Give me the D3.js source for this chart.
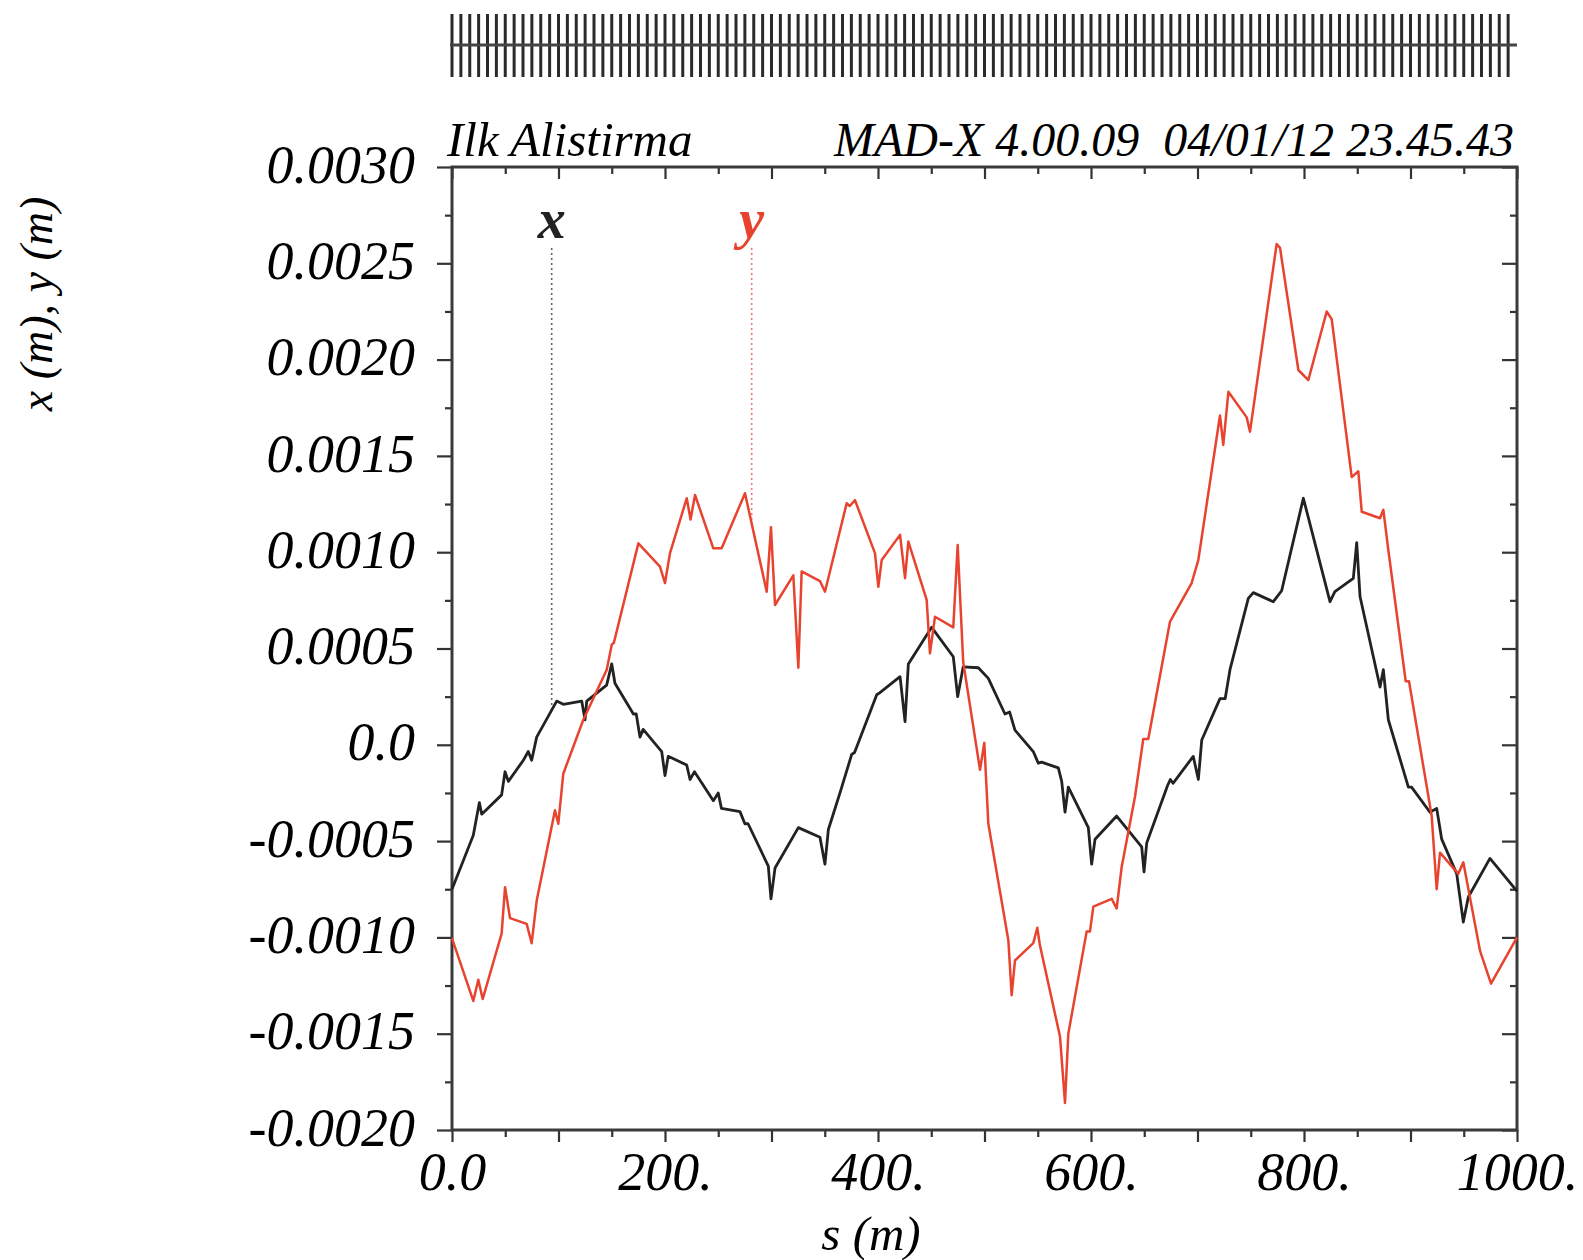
<!DOCTYPE html>
<html>
<head>
<meta charset="utf-8">
<script src="https://cdn.jsdelivr.net/npm/d3@7"></script>
<style>
	html, body { margin: 0; padding: 0; background: #fff; }
	svg text { font-family: "Liberation Serif", "Times New Roman", serif; font-style: italic; }
</style>
</head>
<body>
<div id="chart"></div>
<script>
"use strict";

//  Closed orbit: [s (m), value (m)]
const orbitX = [
	[0,-0.00075],[20,-0.00047],[25.7,-0.0003],[27.9,-0.00036],[46.6,-0.00026],[49.8,-0.00014],[52.9,-0.00019],
	[67,-0.00008],[71.6,-0.000035],[74.8,-0.00008],[79.5,0.00004],[98.3,0.000227],[104.5,0.00021],[121.8,0.000227],
	[124.9,0.00013],[126.5,0.000227],[145.2,0.00031],[150,0.00042],[153,0.00032],[170.3,0.00016],[173,0.00016],
	[176.5,0.00004],[179.5,0.00008],[196.9,-0.000035],[200,-0.00016],[203,-0.00006],[220.4,-0.000105],[223.5,-0.00018],
	[227.7,-0.00014],[245.4,-0.00029],[250,-0.00025],[253,-0.00033],[270.4,-0.000347],[275,-0.00041],[278,-0.00041],
	[297,-0.00063],[299.5,-0.0008],[303.3,-0.00064],[325.2,-0.00043],[345.5,-0.00048],[350.2,-0.00062],[353.4,-0.00044],
	[364.3,-0.00025],[375.3,-0.00005],[378,-0.00004],[398.8,0.00026],[401.5,0.00027],[420.7,0.000354],[425.4,0.00012],
	[428.5,0.00042],[450.4,0.00061],[470.7,0.000457],[474.8,0.00025],[480,0.000405],[494.2,0.0004],[503.6,0.000345],
	[519.2,0.00016],[523.6,0.00017],[528.6,0.000076],[545.8,-0.000035],[550.5,-0.000095],[553.6,-0.00009],[569.3,-0.00012],
	[572.5,-0.00019],[575.6,-0.00035],[578.7,-0.00022],[597.5,-0.00043],[600.6,-0.00062],[603.8,-0.00049],[624.1,-0.00037],
	[647.6,-0.00053],[649.8,-0.00066],[652.3,-0.00051],[672,-0.00021],[674.5,-0.00018],[677,-0.0002],[696,-0.00006],
	[700.8,-0.00018],[704,0.000025],[721.1,0.00024],[726,0.00024],[730.5,0.00039],[747.7,0.00076],[752.4,0.00079],
	[771.2,0.000743],[779,0.0008],[799.4,0.00128],[824.4,0.000743],[829,0.000795],[846.3,0.000864],[849.5,0.00105],
	[852.6,0.00077],[871.4,0.0003],[874.5,0.00039],[879.2,0.00013],[898,-0.00022],[901,-0.00022],[918.3,-0.00035],
	[924.6,-0.00033],[929.3,-0.00049],[943.4,-0.00067],[949.6,-0.00092],[954.3,-0.00079],[974.6,-0.00059],[1000,-0.00076]
];

const orbitY = [
	[0,-0.001005],[20,-0.00133],[24.7,-0.00122],[28.8,-0.00132],[46.6,-0.00098],[49.8,-0.00074],[54.5,-0.0009],
	[70.1,-0.00093],[74.8,-0.00103],[79.5,-0.00081],[96.7,-0.00034],[99.8,-0.00041],[104.5,-0.00015],[123.3,0.00013],
	[145.3,0.00039],[150,0.00052],[152,0.00053],[175,0.001046],[195.3,0.000925],[200,0.00084],[204.7,0.000995],
	[220.4,0.00128],[224,0.00117],[228.2,0.001297],[245.4,0.00102],[253.2,0.00102],[275.1,0.001306],[295.5,0.000795],
	[299.5,0.00113],[303.3,0.000726],[320.5,0.00088],[325.2,0.0004],[328.3,0.0009],[345.5,0.00085],[350.2,0.000795],
	[370.6,0.001254],[373.5,0.00124],[378.4,0.00127],[397.2,0.000994],[400.3,0.00082],[403.5,0.00096],[420.7,0.00109],
	[425.4,0.000865],[428.5,0.001055],[445.7,0.000752],[448.8,0.000475],[453.5,0.000665],[470.7,0.00061],[474.8,0.001037],
	[480,0.00043],[495.8,-0.00013],[499.8,0.00001],[503.6,-0.00041],[522.4,-0.001015],[525.5,-0.0013],[528.6,-0.00112],
	[545.8,-0.00103],[549.6,-0.00095],[552,-0.00104],[570.9,-0.001515],[575.6,-0.00186],[578.7,-0.0015],[595.9,-0.00097],
	[599,-0.00097],[602.2,-0.00084],[619.4,-0.0008],[624.1,-0.00085],[628.8,-0.000634],[641.3,-0.00027],[649.1,0.00003],
	[653.8,0.00003],[674.2,0.00064],[694.5,0.00084],[700.8,0.00096],[721.1,0.00171],[724.2,0.001557],[729,0.001833],
	[746.2,0.0017],[749.3,0.001626],[774.3,0.0026],[777.5,0.00258],[794.7,0.001946],[804.1,0.001894],[821.3,0.00225],
	[826,0.00221],[844.8,0.00139],[851,0.00142],[854.2,0.00121],[871.4,0.001176],[874.5,0.00122],[879.2,0.00101],
	[895.5,0.00033],[898.6,0.00033],[919.9,-0.00037],[924.6,-0.00075],[927.7,-0.00056],[944.9,-0.00067],[949.6,-0.00061],
	[965.3,-0.00107],[975.6,-0.00124],[1000,-0.001]
];

//  Axis ticks
const xMajorTicks = [0, 100, 200, 300, 400, 500, 600, 700, 800, 900, 1000];
const xMinorTicks = [50, 150, 250, 350, 450, 550, 650, 750, 850, 950];
const xTickLabels = { 0: '0.0', 200: '200.', 400: '400.', 600: '600.', 800: '800.', 1000: '1000.' };
const yMajorTicks = [-0.002, -0.0015, -0.001, -0.0005, 0, 0.0005, 0.001, 0.0015, 0.002, 0.0025, 0.003];
const yMinorTicks = [-0.00175, -0.00125, -0.00075, -0.00025, 0.00025, 0.00075, 0.00125, 0.00175, 0.00225, 0.00275];
const yTickLabels = ['-0.0020', '-0.0015', '-0.0010', '-0.0005', '0.0', '0.0005', '0.0010', '0.0015', '0.0020', '0.0025', '0.0030'];

//  Lattice: elements along the 1000 m ring
const circumference = 1000;
const nElements = 120;

const title = 'Ilk Alistirma';
const stamp = 'MAD-X 4.00.09  04/01/12 23.45.43';

const width = 1583, height = 1260;
const plot = { left: 452, right: 1517, top: 167, bottom: 1130 };

const svg = d3.select('#chart').append('svg')
	.attr('width', width)
	.attr('height', height);

const x = d3.scaleLinear().domain([0, 1000]).range([plot.left, plot.right]);
const y = d3.scaleLinear().domain([-0.002, 0.003]).range([plot.bottom, plot.top]);

//  Lattice strip at the top
const lattice = svg.append('g').attr('class', 'lattice');
lattice.selectAll('.elem')
	.data(d3.range(nElements).map(i => i * circumference / nElements))
	.join('line')
	.attr('class', 'elem')
	.attr('x1', d => x(d)).attr('x2', d => x(d))
	.attr('y1', 14).attr('y2', 77)
	.attr('stroke', '#2a2a2a').attr('stroke-width', 3);
lattice.append('line')
	.attr('x1', x(0) - 2).attr('x2', x(circumference))
	.attr('y1', 45).attr('y2', 45)
	.attr('stroke', '#444').attr('stroke-width', 3);

//  Axes
function styleAxis(g)
{
	g.select('.domain').remove();
	g.selectAll('line').attr('stroke', '#333').attr('stroke-width', 2.2);
	g.selectAll('text').attr('fill', '#000').style('font-size', '54px');
}

svg.append('g').attr('transform', `translate(0,${plot.bottom})`)
	.call(d3.axisBottom(x).tickValues(xMinorTicks).tickSize(7).tickFormat(''))
	.call(styleAxis);
svg.append('g').attr('transform', `translate(0,${plot.bottom})`)
	.call(d3.axisBottom(x).tickValues(xMajorTicks).tickSize(12).tickPadding(10)
		.tickFormat(d => xTickLabels[d] || ''))
	.call(styleAxis);
svg.append('g').attr('transform', `translate(0,${plot.top})`)
	.call(d3.axisTop(x).tickValues(xMinorTicks).tickSize(-7).tickFormat(''))
	.call(styleAxis);
svg.append('g').attr('transform', `translate(0,${plot.top})`)
	.call(d3.axisTop(x).tickValues(xMajorTicks).tickSize(-12).tickFormat(''))
	.call(styleAxis);

svg.append('g').attr('transform', `translate(${plot.left},0)`)
	.call(d3.axisLeft(y).tickValues(yMinorTicks).tickSize(7).tickFormat(''))
	.call(styleAxis);
svg.append('g').attr('transform', `translate(${plot.left},0)`)
	.call(d3.axisLeft(y).tickValues(yMajorTicks).tickSize(15).tickPadding(22)
		.tickFormat((d, i) => yTickLabels[i]))
	.call(styleAxis)
	.selectAll('text').attr('dy', '0.28em');
svg.append('g').attr('transform', `translate(${plot.right},0)`)
	.call(d3.axisRight(y).tickValues(yMinorTicks).tickSize(-7).tickFormat(''))
	.call(styleAxis);
svg.append('g').attr('transform', `translate(${plot.right},0)`)
	.call(d3.axisRight(y).tickValues(yMajorTicks).tickSize(-15).tickFormat(''))
	.call(styleAxis);

svg.append('rect')
	.attr('x', plot.left).attr('y', plot.top)
	.attr('width', plot.right - plot.left).attr('height', plot.bottom - plot.top)
	.attr('fill', 'none').attr('stroke', '#3a3a3a').attr('stroke-width', 3);

//  Orbit curves
const series = [
	{ name: 'x', data: orbitX, color: '#222', width: 2.8, labelS: 93.6 },
	{ name: 'y', data: orbitY, color: '#e8432f', width: 2.5, labelS: 281.4 }
];

const line = d3.line().x(d => x(d[0])).y(d => y(d[1]));
const bisect = d3.bisector(d => d[0]).left;

function valueAt(data, s)
{
	const i = bisect(data, s);
	const a = data[i - 1], b = data[i];
	return a[1] + (b[1] - a[1]) * (s - a[0]) / (b[0] - a[0]);
}

series.forEach(ser =>
{
	svg.append('line')
		.attr('x1', x(ser.labelS)).attr('x2', x(ser.labelS))
		.attr('y1', 248).attr('y2', y(valueAt(ser.data, ser.labelS)))
		.attr('stroke', ser.color).attr('stroke-opacity', 0.7)
		.attr('stroke-width', 1.6).attr('stroke-dasharray', '2,3');

	svg.append('text')
		.attr('x', x(ser.labelS)).attr('y', 238)
		.attr('text-anchor', 'middle')
		.attr('fill', ser.color)
		.style('font-size', '56px').style('font-weight', 'bold')
		.text(ser.name);
});

series.forEach(ser =>
	svg.append('path')
		.datum(ser.data)
		.attr('d', line)
		.attr('fill', 'none')
		.attr('stroke', ser.color)
		.attr('stroke-width', ser.width)
		.attr('stroke-linejoin', 'round'));

//  Titles and axis labels
svg.append('text')
	.attr('x', 447).attr('y', 156)
	.style('font-size', '49px')
	.text(title);
svg.append('text')
	.attr('x', 1514).attr('y', 156)
	.attr('text-anchor', 'end')
	.style('font-size', '48px').style('white-space', 'pre')
	.text(stamp);
svg.append('text')
	.attr('x', 871).attr('y', 1250)
	.attr('text-anchor', 'middle')
	.style('font-size', '49px')
	.text('s (m)');
svg.append('text')
	.attr('transform', 'translate(52,304) rotate(-90)')
	.attr('text-anchor', 'middle')
	.style('font-size', '46px')
	.text('x (m), y (m)');
</script>
</body>
</html>
